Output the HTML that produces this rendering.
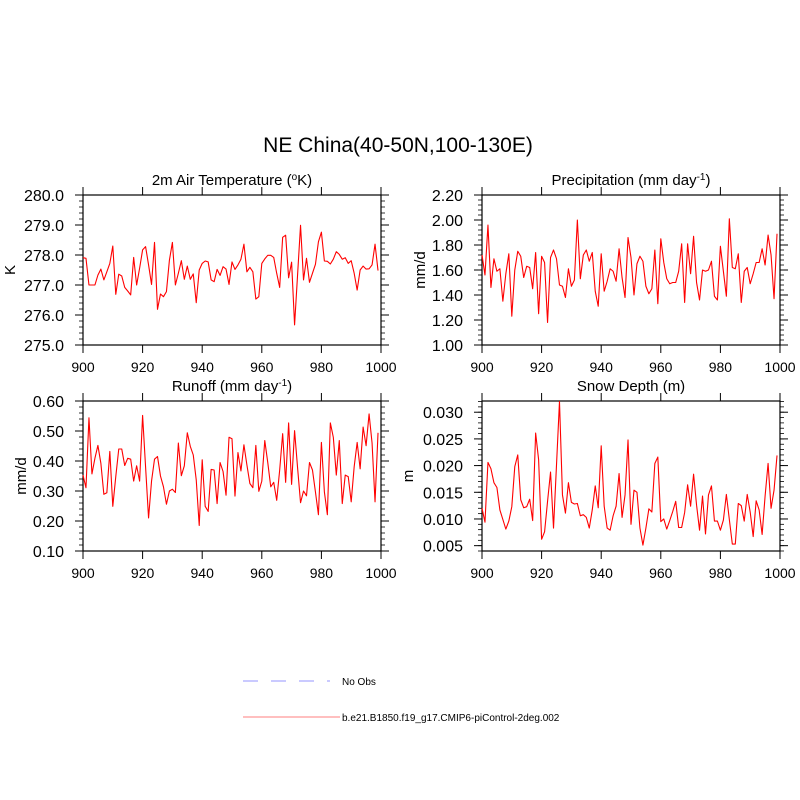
<!DOCTYPE html>
<html><head><meta charset="utf-8"><style>
body{margin:0;background:#fff}
svg{display:block;font-family:"Liberation Sans",Arial,sans-serif}
</style></head><body>
<svg id="fig" width="800" height="800" viewBox="0 0 800 800" xmlns="http://www.w3.org/2000/svg">
<rect width="800" height="800" fill="#fff"/>
<text x="398" y="152" font-size="21" text-anchor="middle">NE China(40-50N,100-130E)</text>
<g>
<line x1="243" y1="681" x2="330" y2="681" stroke="#aaaaff" stroke-width="1.3" stroke-dasharray="15,13"/>
<text x="342" y="685" font-size="10">No Obs</text>
<line x1="243" y1="717" x2="340" y2="717" stroke="#ff9999" stroke-width="1.3"/>
<text x="342" y="721" font-size="10">b.e21.B1850.f19_g17.CMIP6-piControl-2deg.002</text>
</g>
</svg>
<script>
const years = Array.from({length:100},(_, i)=>900+i);
const tempValues=[277.91,277.89,277.0,277.0,277.0,277.33,277.53,277.17,277.44,277.72,278.3,276.69,277.36,277.3,276.92,276.8,276.67,277.92,277.0,277.56,278.17,278.28,277.67,277.02,278.42,276.19,276.7,276.61,276.78,277.83,278.42,277.0,277.39,277.81,277.19,277.63,277.19,277.37,276.41,277.5,277.72,277.8,277.77,277.17,277.11,277.52,277.32,277.61,277.53,277.02,277.77,277.52,277.67,277.86,278.36,277.44,277.59,277.44,276.53,276.61,277.72,277.87,277.99,277.99,277.92,277.39,276.92,278.59,278.66,277.24,277.76,275.67,277.33,278.99,277.17,277.89,277.09,277.39,277.69,278.44,278.76,277.8,277.79,277.7,277.86,278.11,278.02,277.86,277.91,277.72,277.81,277.39,276.83,277.5,277.63,277.53,277.54,277.67,278.36,277.48];
const precValues=[1.72,1.56,1.96,1.46,1.69,1.59,1.61,1.35,1.57,1.73,1.23,1.60,1.75,1.71,1.54,1.63,1.62,1.45,1.74,1.25,1.71,1.66,1.18,1.70,1.76,1.69,1.48,1.47,1.38,1.61,1.47,1.52,2.00,1.53,1.72,1.76,1.67,1.74,1.43,1.31,1.73,1.43,1.51,1.61,1.59,1.51,1.77,1.54,1.38,1.86,1.70,1.40,1.65,1.71,1.67,1.47,1.41,1.45,1.76,1.33,1.85,1.66,1.53,1.49,1.50,1.50,1.59,1.81,1.34,1.81,1.57,1.87,1.50,1.36,1.60,1.59,1.60,1.67,1.39,1.36,1.79,1.59,1.39,2.01,1.62,1.61,1.73,1.34,1.59,1.62,1.49,1.57,1.66,1.66,1.77,1.64,1.88,1.72,1.37,1.89];
const runoffValues=[0.353,0.311,0.544,0.357,0.409,0.452,0.392,0.289,0.294,0.432,0.249,0.348,0.440,0.440,0.385,0.409,0.406,0.333,0.384,0.333,0.552,0.38,0.21,0.333,0.406,0.415,0.35,0.314,0.256,0.30,0.306,0.295,0.46,0.351,0.384,0.494,0.449,0.42,0.337,0.185,0.404,0.249,0.232,0.372,0.37,0.258,0.395,0.365,0.286,0.479,0.474,0.283,0.428,0.367,0.454,0.387,0.325,0.311,0.452,0.299,0.333,0.468,0.395,0.314,0.329,0.269,0.37,0.491,0.329,0.527,0.322,0.501,0.378,0.261,0.30,0.284,0.395,0.37,0.297,0.221,0.462,0.297,0.221,0.527,0.479,0.353,0.468,0.258,0.353,0.348,0.264,0.381,0.462,0.374,0.513,0.451,0.557,0.46,0.264,0.494];
const snowValues=[0.012,0.0094,0.0206,0.0194,0.0168,0.0159,0.0117,0.0099,0.0081,0.0096,0.0123,0.0198,0.022,0.0136,0.0121,0.0123,0.0137,0.0097,0.0261,0.0211,0.0062,0.0076,0.0133,0.0188,0.0083,0.0201,0.032,0.0145,0.0111,0.0168,0.0131,0.0128,0.0129,0.0106,0.0108,0.0103,0.0083,0.0117,0.0162,0.0121,0.0237,0.0124,0.0083,0.0079,0.0106,0.0124,0.0185,0.0103,0.0145,0.0248,0.0090,0.0154,0.015,0.0083,0.0051,0.0083,0.0119,0.0113,0.0204,0.0216,0.0095,0.0100,0.0081,0.0097,0.0114,0.0133,0.0084,0.0084,0.0112,0.0164,0.0124,0.0184,0.0126,0.0079,0.0143,0.0072,0.0145,0.0162,0.0096,0.0096,0.0079,0.0098,0.0146,0.0099,0.0053,0.0053,0.0129,0.0125,0.0096,0.0146,0.0113,0.0067,0.0134,0.0117,0.0071,0.0143,0.0204,0.0120,0.0154,0.0219];
const xTicks=[900,920,940,960,980,1000];
const tempTicks=[275,276,277,278,279,280];
const precTicks=[1.0,1.2,1.4,1.6,1.8,2.0,2.2];
const runoffTicks=[0.1,0.2,0.3,0.4,0.5,0.6];
const snowTicks=[0.005,0.010,0.015,0.020,0.025,0.030];

const NS="http://www.w3.org/2000/svg";
const svg=document.getElementById('fig');
function mk(tag,attrs,parent){const e=document.createElementNS(NS,tag);for(const k in attrs)e.setAttribute(k,attrs[k]);(parent||svg).appendChild(e);return e;}

function panel(o){
  const g=mk('g',{});
  
  
  const sx=v=>o.x0+(v-900)/100*(o.x1-o.x0);
  const sy=v=>o.y1-(v-o.ymin)/(o.ymax-o.ymin)*(o.y1-o.y0);
  for(let v=o.ymin;v<=o.ymax+1e-9;v+=o.minor){
    const y=sy(v);
    if(y<o.y0-0.5||y>o.y1+0.5) continue;
    const t1=mk('line',{x1:o.x0-4,x2:o.x0,y1:y,y2:y,stroke:'#000','stroke-width':0.8},g);
    
    
    const t2=mk('line',{x1:o.x1,x2:o.x1+4,y1:y,y2:y,stroke:'#000','stroke-width':0.8},g);
    
    
  }
  o.ticks.forEach(v=>{
    const y=sy(v);
    const t1=mk('line',{x1:o.x0-8,x2:o.x0,y1:y,y2:y,stroke:'#000','stroke-width':1},g);
    
    
    const t2=mk('line',{x1:o.x1,x2:o.x1+8,y1:y,y2:y,stroke:'#000','stroke-width':1},g);
    
    
    const tl=mk('text',{x:o.x0-19,y:y+6,'font-size':16,'text-anchor':'end'},g);
    tl.textContent=v.toFixed(o.dec);
    
    
  });
  xTicks.forEach(v=>{
    const x=sx(v);
    const t1=mk('line',{x1:x,x2:x,y1:o.y1,y2:o.y1+8,stroke:'#000','stroke-width':1},g);
    
    
    const t2=mk('line',{x1:x,x2:x,y1:o.y0-8,y2:o.y0,stroke:'#000','stroke-width':1},g);
    
    
    const tl=mk('text',{x:x,y:o.y1+27,'font-size':14,'text-anchor':'middle'},g);
    tl.textContent=v;
    
    
  });
  const frame=mk('rect',{x:o.x0,y:o.y0,width:o.x1-o.x0,height:o.y1-o.y0,fill:'none',stroke:'#000','stroke-width':1.2},g);
  
  
  const pts=o.values.map((v,i)=>sx(years[i]).toFixed(2)+','+sy(v).toFixed(2)).join(' ');
  const line=mk('polyline',{points:pts,fill:'none',stroke:'#ff0000','stroke-width':1.1,'stroke-linejoin':'round'},g);
  
  
  const title=mk('text',{x:(o.x0+o.x1)/2,y:o.y0-10,'font-size':15,'text-anchor':'middle'},g);
  title.innerHTML=o.title;
  
  
  const yt=mk('text',{x:o.ylx,y:(o.y0+o.y1)/2,'font-size':15,'text-anchor':'middle',transform:'rotate(-90 '+o.ylx+' '+(o.y0+o.y1)/2+')'},g);
  yt.textContent=o.ylabel;
  
  
}
panel({name:'temperature-panel',x0:83,x1:381,y0:195,y1:345,ymin:275,ymax:280,ticks:tempTicks,minor:0.2,dec:1,values:tempValues,
  title:'2m Air Temperature (<tspan dy="-5" font-size="10">o</tspan><tspan dy="5">K)</tspan>',ylabel:'K',ylx:15});
panel({name:'precipitation-panel',x0:482,x1:780,y0:195,y1:345,ymin:1.0,ymax:2.2,ticks:precTicks,minor:0.04,dec:2,values:precValues,
  title:'Precipitation (mm day<tspan dy="-5" font-size="10">-1</tspan><tspan dy="5">)</tspan>',ylabel:'mm/d',ylx:425});
panel({name:'runoff-panel',x0:83,x1:381,y0:401,y1:551,ymin:0.1,ymax:0.6,ticks:runoffTicks,minor:0.02,dec:2,values:runoffValues,
  title:'Runoff (mm day<tspan dy="-5" font-size="10">-1</tspan><tspan dy="5">)</tspan>',ylabel:'mm/d',ylx:26});
panel({name:'snow-depth-panel',x0:482,x1:780,y0:401,y1:551,ymin:0.0040,ymax:0.0321,ticks:snowTicks,minor:0.001,dec:3,values:snowValues,
  title:'Snow Depth (m)',ylabel:'m',ylx:413});
</script>
</body></html>
